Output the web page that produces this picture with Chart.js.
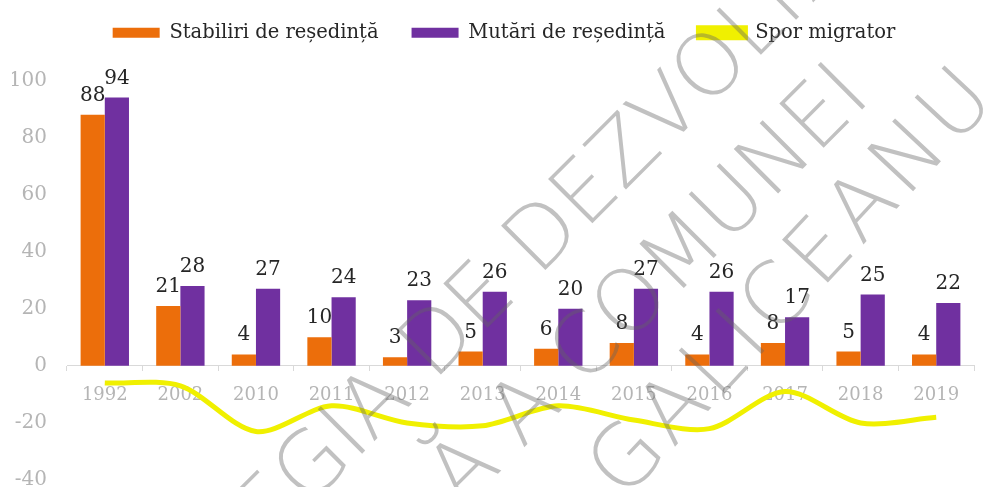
<!DOCTYPE html>
<html>
<head>
<meta charset="utf-8">
<script src="https://cdn.jsdelivr.net/npm/chart.js@4"></script>
<style>
  html, body { margin: 0; padding: 0; background: #fff; }
  #wrap { width: 995px; height: 487px; }
</style>
</head>
<body>
<div id="wrap"><canvas id="c" width="995" height="487"></canvas></div>
<script>
const years = ['1992', '2002', '2010', '2011', '2012', '2013', '2014', '2015', '2016', '2017', '2018', '2019'];
const stabiliri = [88, 21, 4, 10, 3, 5, 6, 8, 4, 8, 5, 4];
const mutari = [94, 28, 27, 24, 23, 26, 20, 27, 26, 17, 25, 22];
const spor = [-6, -7, -23, -14, -20, -21, -14, -19, -22, -9, -20, -18];
const yTicks = [-40, -20, 0, 20, 40, 60, 80, 100];

const serif = "'DejaVu Serif', 'Liberation Serif', serif";

// numbers above the bars
const barLabels = {
    id: 'barLabels',
    afterDatasetsDraw(chart) {
        const ctx = chart.ctx;
        ctx.save();
        ctx.font = '20px ' + serif;
        ctx.fillStyle = '#262626';
        ctx.textAlign = 'center';
        ctx.textBaseline = 'alphabetic';
        [0, 1].forEach(i => {
            const meta = chart.getDatasetMeta(i);
            meta.data.forEach((bar, j) => {
                ctx.fillText(chart.data.datasets[i].data[j], bar.x, bar.y - 14);
            });
        });
        ctx.restore();
    }
};

// extra room under the legend, and nudge it a little to the right
const legendGap = {
    id: 'legendGap',
    beforeInit(chart) {
        const fit = chart.legend.fit;
        chart.legend.fit = function () {
            fit.bind(chart.legend)();
            this.height += 28;
        };
    },
    beforeDraw(chart) {
        chart.legend.left = 34;
    }
};

// diagonal watermark lines
const watermark = {
    id: 'watermark',
    afterDraw(chart) {
        const ctx = chart.ctx;
        const lines = [
            { pre: 'STRATE', vis: 'GIA DE DEZVOLT', post: 'ARE', cx: 546, cy: 238, rot: -45, spacing: 0 },
            { pre: 'LOCAL', vis: 'Ă A COMUNEI', post: '', cx: 650, cy: 290, rot: -45, spacing: 0 },
            { pre: '', vis: 'GALICEANU', post: '', cx: 796, cy: 284, rot: -47, spacing: 6 }
        ];
        ctx.save();
        ctx.fillStyle = 'rgba(100, 100, 100, 0.4)';
        ctx.textBaseline = 'middle';
        ctx.textAlign = 'left';
        lines.forEach(l => {
            ctx.save();
            ctx.font = '200 86px "DejaVu Sans", sans-serif';
            ctx.letterSpacing = l.spacing + 'px';
            ctx.translate(l.cx, l.cy);
            ctx.rotate(l.rot * Math.PI / 180);
            const x = -ctx.measureText(l.pre).width - ctx.measureText(l.vis).width / 2;
            ctx.fillText(l.pre + l.vis + l.post, x, 0);
            ctx.restore();
        });
        ctx.restore();
    }
};

new Chart(document.getElementById('c'), {
    data: {
        labels: years,
        datasets: [{
            type: 'bar',
            label: 'Stabiliri de reședință',
            data: stabiliri,
            backgroundColor: '#EC6E0B',
            order: 1
        }, {
            type: 'bar',
            label: 'Mutări de reședință',
            data: mutari,
            backgroundColor: '#7030A0',
            order: 1
        }, {
            type: 'line',
            label: 'Spor migrator',
            data: spor,
            borderColor: '#F0F000',
            backgroundColor: '#F0F000',
            borderWidth: 5,
            pointRadius: 0,
            tension: 0.3,
            order: 0
        }]
    },
    options: {
        responsive: false,
        animation: false,
        devicePixelRatio: 1,
        layout: { padding: { top: -10, left: 12, right: 21, bottom: 7 } },
        datasets: {
            bar: { categoryPercentage: 0.64, barPercentage: 1.0 }
        },
        plugins: {
            legend: {
                position: 'top',
                labels: {
                    boxWidth: 47,
                    boxHeight: 10,
                    padding: 33,
                    color: '#262626',
                    font: { family: serif, size: 19.5 },
                    sort: (a, b) => a.datasetIndex - b.datasetIndex
                }
            },
            tooltip: { enabled: false }
        },
        scales: {
            x: {
                position: { y: 0 },
                grid: {
                    drawOnChartArea: false,
                    drawTicks: true,
                    tickLength: 5,
                    color: '#d9d9d9'
                },
                border: { color: '#d9d9d9', width: 1 },
                ticks: {
                    color: '#b5b5b5',
                    padding: 14,
                    font: { family: serif, size: 18 }
                }
            },
            y: {
                min: yTicks[0],
                max: yTicks[yTicks.length - 1],
                afterBuildTicks(axis) {
                    axis.ticks = yTicks.map(v => ({ value: v }));
                },
                afterFit(axis) {
                    axis.width = 55;
                    axis.paddingTop = 0;
                    axis.paddingBottom = 0;
                },
                grid: { display: false, drawTicks: false },
                border: { display: false },
                ticks: {
                    color: '#b5b5b5',
                    padding: 20,
                    font: { family: serif, size: 20 }
                }
            }
        }
    },
    plugins: [barLabels, legendGap, watermark]
});
</script>
</body>
</html>
